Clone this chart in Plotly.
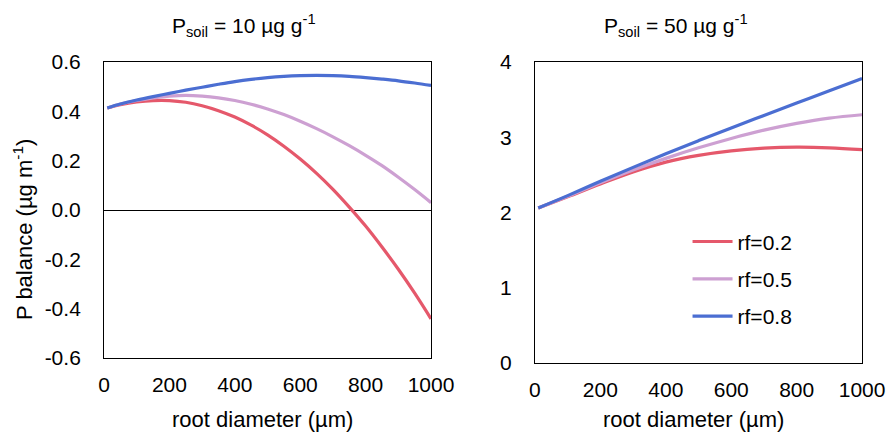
import plotly.graph_objects as go

# root diameter (µm)
x_left = [10, 50, 100, 150, 200, 250, 300, 350, 400, 450, 500, 550, 600, 650, 700, 750, 800, 850, 900, 950, 1000]
# P_soil = 10 µg/g
left_rf02 = [0.414, 0.427, 0.438, 0.444, 0.444, 0.437, 0.423, 0.403, 0.377, 0.344, 0.305, 0.259, 0.207, 0.149, 0.084, 0.012, -0.065, -0.150, -0.240, -0.337, -0.441]
left_rf05 = [0.414, 0.430, 0.444, 0.455, 0.462, 0.465, 0.462, 0.455, 0.444, 0.429, 0.410, 0.387, 0.360, 0.330, 0.297, 0.261, 0.222, 0.180, 0.133, 0.083, 0.030]
left_rf08 = [0.414, 0.430, 0.446, 0.460, 0.473, 0.486, 0.498, 0.510, 0.521, 0.530, 0.537, 0.542, 0.545, 0.546, 0.545, 0.542, 0.537, 0.531, 0.524, 0.515, 0.505]

x_right = [10, 100, 200, 300, 400, 500, 600, 700, 800, 900, 1000]
# P_soil = 50 µg/g
right_rf02 = [2.06, 2.21, 2.38, 2.54, 2.67, 2.76, 2.82, 2.855, 2.868, 2.86, 2.836]
right_rf05 = [2.06, 2.215, 2.395, 2.565, 2.72, 2.86, 2.985, 3.095, 3.185, 3.255, 3.30]
right_rf08 = [2.06, 2.225, 2.415, 2.60, 2.78, 2.955, 3.125, 3.29, 3.455, 3.62, 3.78]

series_names = ["rf=0.2", "rf=0.5", "rf=0.8"]
colors = ["#E5586B", "#CDA0D2", "#4B6ED2"]

x_ticks = [0, 200, 400, 600, 800, 1000]
left_yticks = [-0.6, -0.4, -0.2, 0.0, 0.2, 0.4, 0.6]
left_yticklabels = ["-0.6", "-0.4", "-0.2", "0.0", "0.2", "0.4", "0.6"]
right_yticks = [0, 1, 2, 3, 4]

FONT = "Liberation Sans, Arial, sans-serif"
FS = 21

fig = go.Figure()

for name, col, yv in zip(series_names, colors, [left_rf02, left_rf05, left_rf08]):
    fig.add_trace(go.Scatter(x=x_left, y=yv, mode="lines", name=name,
                             line=dict(color=col, width=3.2, shape="spline"),
                             xaxis="x", yaxis="y", showlegend=False))
for name, col, yv in zip(series_names, colors, [right_rf02, right_rf05, right_rf08]):
    fig.add_trace(go.Scatter(x=x_right, y=yv, mode="lines", name=name,
                             line=dict(color=col, width=3.2, shape="spline"),
                             xaxis="x2", yaxis="y2", showlegend=True, legendgroup=name))

axis_common = dict(showgrid=False, showline=True, linecolor="black", linewidth=1, mirror=True,
                   ticks="", automargin=False, tickfont=dict(size=FS, color="black", family=FONT))

fig.update_layout(
    width=886, height=434,
    margin=dict(l=0, r=0, t=0, b=0),
    paper_bgcolor="white", plot_bgcolor="white",
    font=dict(family=FONT, color="black"),
    xaxis=dict(domain=[0.1174, 0.4865], range=[0, 1000], tickvals=x_ticks,
               ticklabelstandoff=8, anchor="y", **axis_common),
    yaxis=dict(domain=[0.175, 0.857], range=[-0.6, 0.6], tickvals=left_yticks, ticktext=left_yticklabels,
               ticklabelstandoff=18, zeroline=True, zerolinecolor="black", zerolinewidth=1, anchor="x",
               **axis_common),
    xaxis2=dict(domain=[0.6038, 0.973], range=[0, 1000], tickvals=x_ticks,
                ticklabelstandoff=8, anchor="y2", **axis_common),
    yaxis2=dict(domain=[0.1636, 0.857], range=[0, 4], tickvals=right_yticks,
                ticklabelstandoff=18, zeroline=False, anchor="x2", **axis_common),
    legend=dict(x=0.776, y=0.49, xanchor="left", yanchor="top", bgcolor="rgba(0,0,0,0)",
                font=dict(size=FS, family=FONT), tracegroupgap=7, itemwidth=40),
    annotations=[
        dict(text="P<sub>soil</sub> = 10 µg g<sup>-1</sup>", x=244 / 886, y=1 - 25 / 434, xref="paper", yref="paper",
             showarrow=False, font=dict(size=21), xanchor="center", yanchor="middle"),
        dict(text="P<sub>soil</sub> = 50 µg g<sup>-1</sup>", x=676 / 886, y=1 - 25 / 434, xref="paper", yref="paper",
             showarrow=False, font=dict(size=21), xanchor="center", yanchor="middle"),
        dict(text="root diameter (µm)", x=262 / 886, y=0, xref="paper", yref="paper",
             showarrow=False, font=dict(size=22), xanchor="center", yanchor="bottom"),
        dict(text="root diameter (µm)", x=693 / 886, y=0, xref="paper", yref="paper",
             showarrow=False, font=dict(size=22), xanchor="center", yanchor="bottom"),
        dict(text="P balance (µg m<sup>-1</sup>)", x=23 / 886, y=1 - 230 / 434, xref="paper", yref="paper",
             showarrow=False, font=dict(size=22), textangle=-90, xanchor="center", yanchor="middle"),
    ],
)

fig.write_html("out.html")
